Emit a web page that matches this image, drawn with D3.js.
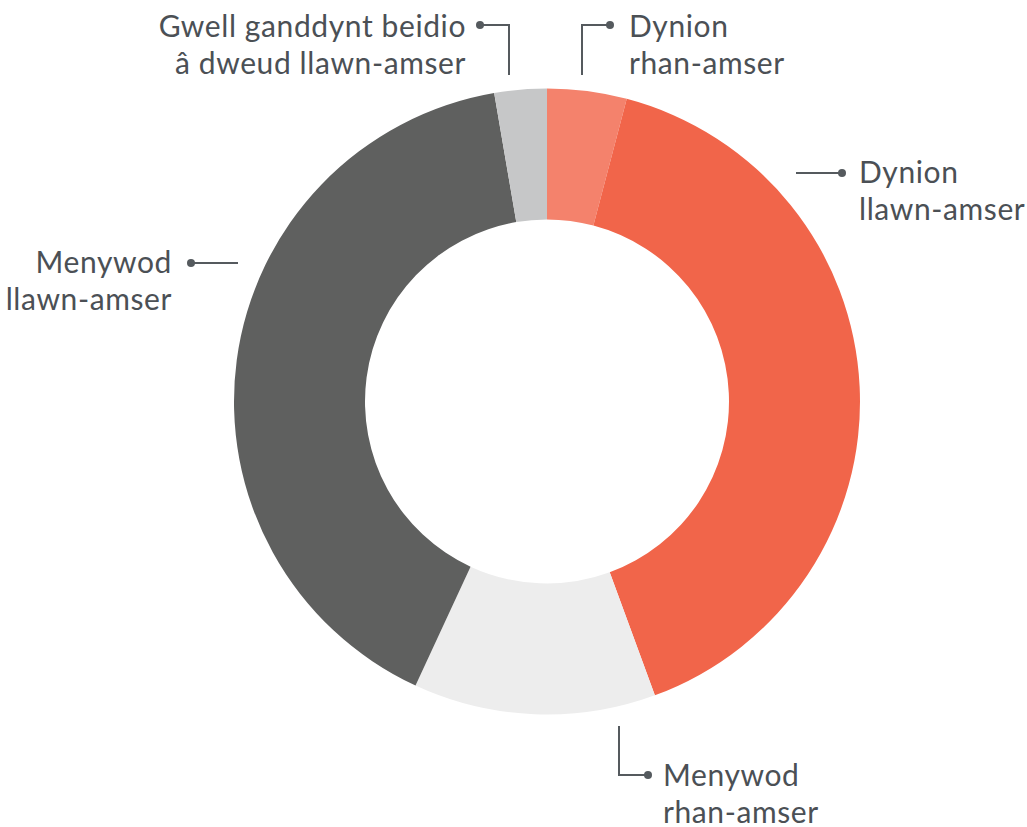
<!doctype html>
<html lang="en">
<head>
  <meta charset="utf-8">
  <script src="https://d3js.org/d3.v7.min.js"></script>
  <style>
    body { margin: 0; background: #fff; }
    text { font-family: Lato, "Open Sans", sans-serif; }
  </style>
</head>
<body>
  <script>
    var width = 1027,
        height = 827;

    // slices, clockwise from 12 o'clock
    var categories = ["Dynion rhan-amser", "Dynion llawn-amser", "Menywod rhan-amser",
                      "Menywod llawn-amser", "Gwell ganddynt beidio â dweud llawn-amser"];
    var values = [4.1, 40.3, 12.5, 40.4, 2.7];
    var colours = ["#f4826c", "#f1654a", "#ededed", "#5f605f", "#c6c7c8"];
    var labelLines = [
      ["Dynion", "rhan-amser"],
      ["Dynion", "llawn-amser"],
      ["Menywod", "rhan-amser"],
      ["Menywod", "llawn-amser"],
      ["Gwell ganddynt beidio", "â dweud llawn-amser"]
    ];

    var cx = 547, cy = 401.5,
        outer = 313, inner = 182;

    var svg = d3.select("body").append("svg")
        .attr("width", width)
        .attr("height", height);

    var pie = d3.pie().sort(null).value(function(d) { return d; });
    var arc = d3.arc().innerRadius(inner).outerRadius(outer);

    var g = svg.append("g").attr("transform", "translate(" + cx + "," + cy + ")");
    g.selectAll("path")
        .data(pie(values))
      .enter().append("path")
        .attr("d", arc)
        .attr("fill", function(d, i) { return colours[i]; });

    // leader lines + labels (polyline points ending at the dot)
    var labels = [
      { pts: [[582, 75], [582, 25], [610, 25]], tx: 629, ty: 37, anchor: "start" },
      { pts: [[796, 173], [842, 173]], tx: 859, ty: 183, anchor: "start" },
      { pts: [[619, 726], [619, 775], [648, 775]], tx: 663, ty: 786, anchor: "start" },
      { pts: [[238, 263], [191, 263]], tx: 172, ty: 273, anchor: "end" },
      { pts: [[509, 75], [509, 25], [480, 25]], tx: 466, ty: 37, anchor: "end" }
    ];
    var ink = "#4b5055";

    labels.forEach(function(l, i) {
      svg.append("path")
          .attr("d", d3.line()(l.pts))
          .attr("fill", "none")
          .attr("stroke", "#555a5e")
          .attr("stroke-width", 2);
      var end = l.pts[l.pts.length - 1];
      svg.append("circle")
          .attr("cx", end[0]).attr("cy", end[1]).attr("r", 4)
          .attr("fill", "#555a5e");
      var t = svg.append("text")
          .attr("x", l.tx).attr("y", l.ty)
          .attr("text-anchor", l.anchor)
          .attr("font-size", 30)
          .attr("letter-spacing", 0.6)
          .attr("fill", ink);
      labelLines[i].forEach(function(s, j) {
        t.append("tspan").attr("x", l.tx).attr("dy", j ? 37 : 0).text(s);
      });
    });
  </script>
</body>
</html>
